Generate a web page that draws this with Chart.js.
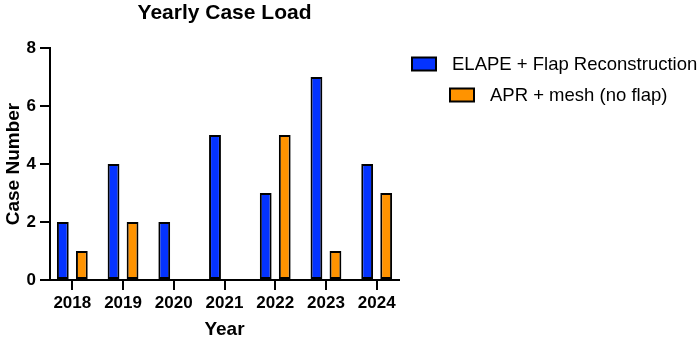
<!DOCTYPE html>
<html>
<head>
<meta charset="utf-8">
<script src="https://cdn.jsdelivr.net/npm/chart.js@4/dist/chart.umd.min.js"></script>
<style>
  html, body { margin: 0; padding: 0; background: #fff; }
  #wrap { width: 700px; height: 341px; }
</style>
</head>
<body>
<div id="wrap"><canvas id="c" width="700" height="341"></canvas></div>
<script>
const years = ['2018', '2019', '2020', '2021', '2022', '2023', '2024'];
const elapeFlap = [2, 4, 2, 5, 3, 7, 4];
const aprMesh = [1, 2, 0, 0, 5, 1, 3];
const seriesNames = ['ELAPE + Flap Reconstruction', 'APR + mesh (no flap)'];
const seriesColors = ['#0433FF', '#FF9300'];
const yTicks = [0, 2, 4, 6, 8];
const chartTitle = 'Yearly Case Load';

const FONT = '"Liberation Sans", Arial, Helvetica, sans-serif';

const titlePlugin = {
  id: 'centeredTitle',
  afterDraw(chart) {
    const ctx = chart.ctx, a = chart.chartArea;
    ctx.save();
    ctx.font = 'bold 21px ' + FONT;
    ctx.fillStyle = '#000';
    ctx.textAlign = 'center';
    ctx.textBaseline = 'middle';
    ctx.fillText(chartTitle, (a.left + a.right) / 2, 13);
    ctx.restore();
  }
};

const legendPlugin = {
  id: 'centeredLegend',
  afterDraw(chart) {
    const ctx = chart.ctx;
    ctx.save();
    ctx.font = '18.5px ' + FONT;
    ctx.textBaseline = 'middle';
    const centers = [555, 559], rows = [64, 95];
    chart.data.datasets.forEach((ds, i) => {
      const tw = ctx.measureText(ds.label).width;
      const boxW = 24, boxH = 13, gap = 16;
      const total = boxW + gap + tw;
      const x0 = Math.round(centers[i] - total / 2), y = rows[i];
      ctx.fillStyle = ds.backgroundColor;
      ctx.fillRect(x0, y - boxH / 2, boxW, boxH);
      ctx.lineWidth = 2;
      ctx.strokeStyle = '#000';
      ctx.strokeRect(x0, y - boxH / 2, boxW, boxH);
      ctx.fillStyle = '#000';
      ctx.textAlign = 'left';
      ctx.fillText(ds.label, x0 + boxW + gap, y + 1);
    });
    ctx.restore();
  }
};

const axisGrid = {
  display: true,
  drawOnChartArea: false,
  drawTicks: true,
  tickLength: 10,
  color: '#000',
  lineWidth: 2
};

new Chart(document.getElementById('c'), {
  type: 'bar',
  data: {
    labels: years,
    datasets: [
      { label: seriesNames[0], data: elapeFlap, backgroundColor: seriesColors[0] },
      { label: seriesNames[1], data: aprMesh, backgroundColor: seriesColors[1] }
    ].map(d => Object.assign(d, {
      borderColor: '#000',
      borderWidth: 2,
      borderSkipped: false,
      categoryPercentage: 0.75,
      barPercentage: 0.62
    }))
  },
  options: {
    responsive: false,
    animation: false,
    devicePixelRatio: 1,
    layout: { padding: { top: 48, right: 301, left: 0, bottom: 0 } },
    plugins: {
      legend: { display: false },
      title: { display: false },
      tooltip: { enabled: false }
    },
    scales: {
      x: {
        offset: true,
        grid: Object.assign({ offset: false }, axisGrid),
        border: { display: true, color: '#000', width: 2 },
        ticks: { color: '#000', font: { family: FONT, size: 17, weight: 'bold' }, padding: 3, maxRotation: 0 },
        title: { display: true, text: 'Year', color: '#000', font: { family: FONT, size: 19, weight: 'bold' }, padding: { top: 0, bottom: 0 } },
        afterFit(s) { s.height = 61; },
        afterUpdate(s) { s._startValue = -0.44; s._valueRange = 6.88; }
      },
      y: {
        min: yTicks[0],
        max: yTicks[yTicks.length - 1],
        afterBuildTicks(s) { s.ticks = yTicks.map(v => ({ value: v })); },
        grid: axisGrid,
        border: { display: true, color: '#000', width: 2 },
        ticks: { color: '#000', font: { family: FONT, size: 17, weight: 'bold' }, padding: 4 },
        title: { display: true, text: 'Case Number', color: '#000', font: { family: FONT, size: 19, weight: 'bold' }, padding: { top: 2, bottom: 0 } },
        afterFit(s) { s.width = 50; }
      }
    }
  },
  plugins: [titlePlugin, legendPlugin]
});
</script>
</body>
</html>
